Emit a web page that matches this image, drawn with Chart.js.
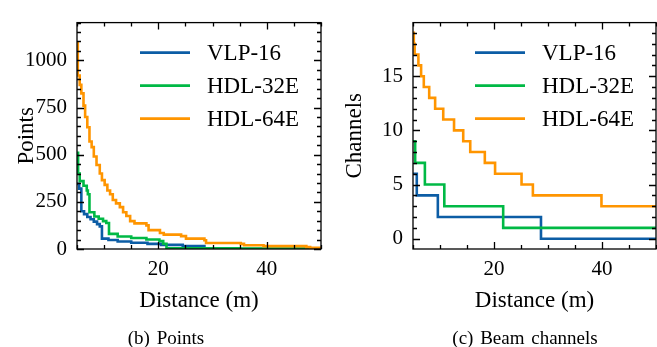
<!DOCTYPE html>
<html>
<head>
<meta charset="utf-8">
<script src="https://cdn.jsdelivr.net/npm/chart.js@4.4.0/dist/chart.umd.min.js"></script>
<style>
    body { margin: 0; background: #fff; }
    #wrap { position: relative; width: 657px; height: 347px; }
    .panel { position: absolute; top: 0; height: 347px; }
    .caption {
        position: absolute; top: 328px; line-height: 19px;
        font-family: "Liberation Serif", "Times New Roman", serif; font-size: 19px;
        color: #000; white-space: nowrap; transform: translateX(-50%);
        word-spacing: 2px;
    }
</style>
</head>
<body>
<div id="wrap">
    <div class="panel" style="left:0;width:330px"><canvas id="pointsChart" width="330" height="347"></canvas></div>
    <div class="panel" style="left:330px;width:327px"><canvas id="channelsChart" width="327" height="347"></canvas></div>
    <div class="caption" style="left:166px">(b) Points</div>
    <div class="caption" style="left:525px">(c) Beam channels</div>
</div>
<script>
const seriesNames = ["VLP-16", "HDL-32E", "HDL-64E"];
const seriesColors = ["#0C5DA5", "#00B945", "#FF9500"];

// tick labels
const distTicks = [20, 40];
const pointsTicks = [0, 250, 500, 750, 1000];
const channelsTicks = [0, 5, 10, 15];

// (b) points per distance
const vlpPtsDist = [5.0, 5.4, 5.8, 6.3, 6.9, 7.5, 8.1, 8.7, 9.2, 9.6, 10.8, 12.5, 15.0, 18.0, 20.5, 24.5, 28.5, 50];
const vlpPts     = [345, 320, 200, 185, 170, 158, 145, 132, 120, 55, 48, 40, 33, 27, 22, 16, 0, 0];
const hdl32PtsDist = [5.0, 5.2, 5.5, 6.2, 6.8, 7.0, 7.3, 8.2, 9.0, 9.8, 10.4, 10.9, 12.5, 15.0, 17.8, 20.2, 20.9, 21.5, 35.0, 50];
const hdl32Pts     = [510, 400, 360, 335, 310, 290, 195, 172, 160, 148, 138, 80, 66, 58, 50, 42, 28, 4, 3, 3];
const hdl64PtsDist = [5.0, 5.15, 5.5, 5.8, 6.2, 6.5, 6.9, 7.3, 7.7, 8.1, 8.6, 9.2, 9.6, 10.1, 10.6, 11.1, 11.6, 12.2, 12.9, 13.5,
                      14.1, 14.8, 15.6, 17.8, 18.2, 20.3, 21.0, 24.2, 25.1, 28.5, 28.8, 35.2, 35.8, 39.4, 47.3, 48.0, 50];
const hdl64Pts     = [1090, 920, 870, 825, 760, 700, 645, 570, 540, 490, 445, 400, 365, 340, 310, 290, 260, 242, 222, 195,
                      175, 148, 136, 125, 100, 85, 76, 68, 55, 46, 32, 27, 20, 15, 10, 6, 6];

// (c) beam channels per distance
const vlpChDist = [5.0, 5.7, 9.6, 28.7, 50];
const vlpCh     = [6, 4, 2, 0, 0];
const hdl32ChDist = [5.0, 5.4, 7.2, 10.8, 21.7, 50];
const hdl32Ch     = [9, 7, 5, 3, 1, 1];
const hdl64ChDist = [5.0, 5.15, 5.3, 6.0, 6.5, 7.0, 8.0, 9.1, 10.6, 12.6, 14.3, 15.6, 18.3, 20.2, 25.1, 27.2, 39.9, 50];
const hdl64Ch     = [19, 18, 17, 16, 15, 14, 13, 12, 11, 10, 9, 8, 7, 6, 5, 4, 3, 3];

const serif = "'Liberation Serif', 'Times New Roman', serif";

const toPoints = (xs, ys) => xs.map((x, i) => ({ x: x, y: ys[i] }));

// frame with inward major/minor ticks on all four sides
const sciAxes = {
    id: "sciAxes",
    afterDatasetsDraw(chart, args, opts) {
        const { ctx, chartArea: a, scales: { x, y } } = chart;
        ctx.save();
        ctx.strokeStyle = "#000";
        ctx.lineWidth = 1.3;
        ctx.beginPath();
        const tickX = (step, len) => {
            for (let v = Math.ceil(x.min / step - 1e-9) * step; v <= x.max + 1e-9; v += step) {
                const px = Math.round(x.getPixelForValue(v)) + 0.5;
                ctx.moveTo(px, a.bottom); ctx.lineTo(px, a.bottom - len);
                ctx.moveTo(px, a.top); ctx.lineTo(px, a.top + len);
            }
        };
        const tickY = (step, len) => {
            for (let v = Math.ceil(y.min / step - 1e-9) * step; v <= y.max + 1e-9; v += step) {
                const py = Math.round(y.getPixelForValue(v)) + 0.5;
                ctx.moveTo(a.left, py); ctx.lineTo(a.left + len, py);
                ctx.moveTo(a.right, py); ctx.lineTo(a.right - len, py);
            }
        };
        tickX(opts.xMinor, 4);
        tickX(opts.xMajor, 7);
        tickY(opts.yMinor, 4);
        tickY(opts.yMajor, 7);
        ctx.stroke();
        ctx.strokeRect(a.left, a.top, a.right - a.left, a.bottom - a.top);
        ctx.restore();
    }
};

// legend drawn inside the plot, upper right
const lineLegend = {
    id: "lineLegend",
    afterDraw(chart) {
        const { ctx, chartArea: a } = chart;
        ctx.save();
        ctx.font = "23px " + serif;
        ctx.textBaseline = "middle";
        ctx.fillStyle = "#000";
        chart.data.datasets.forEach((ds, i) => {
            const yy = a.top + 30 + i * 33;
            ctx.strokeStyle = ds.borderColor;
            ctx.lineWidth = 2.6;
            ctx.beginPath();
            ctx.moveTo(a.right - 181, yy);
            ctx.lineTo(a.right - 131, yy);
            ctx.stroke();
            ctx.fillText(ds.label, a.right - 114, yy + 1);
        });
        ctx.restore();
    }
};

function makeChart(canvasId, series, cfg) {
    const datasets = series.map((s, i) => ({
        label: seriesNames[i],
        data: toPoints(s[0], s[1]),
        borderColor: seriesColors[i],
        borderWidth: 2.6,
        pointRadius: 0,
        stepped: "before",
        fill: false,
        order: 3 - i
    }));

    return new Chart(document.getElementById(canvasId), {
        type: "line",
        data: { datasets: datasets },
        plugins: [sciAxes, lineLegend],
        options: {
            responsive: false,
            animation: false,
            layout: { padding: { top: cfg.padTop, right: cfg.padRight, left: 0, bottom: 0 } },
            plugins: {
                legend: { display: false },
                tooltip: { enabled: false },
                sciAxes: { xMajor: 20, xMinor: 5, yMajor: cfg.yMajor, yMinor: cfg.yMinor }
            },
            scales: {
                x: {
                    type: "linear",
                    min: 5,
                    max: 50,
                    grid: { display: false, drawTicks: false },
                    border: { display: false },
                    afterBuildTicks: scale => { scale.ticks = distTicks.map(v => ({ value: v })); },
                    ticks: {
                        padding: 8,
                        color: "#000",
                        font: { family: serif, size: 21 },
                        callback: v => String(v)
                    },
                    title: {
                        display: true,
                        text: "Distance (m)",
                        color: "#000",
                        font: { family: serif, size: 23 },
                        padding: { top: 0, bottom: 32 }
                    },
                    afterFit: scale => { scale.height = 98; }
                },
                y: {
                    type: "linear",
                    min: cfg.yMin,
                    max: cfg.yMax,
                    grid: { display: false, drawTicks: false },
                    border: { display: false },
                    afterBuildTicks: scale => { scale.ticks = cfg.yTicks.map(v => ({ value: v })); },
                    ticks: {
                        padding: 10,
                        color: "#000",
                        font: { family: serif, size: 21 },
                        callback: v => String(v)
                    },
                    title: {
                        display: true,
                        text: cfg.yTitle,
                        color: "#000",
                        font: { family: serif, size: 23 },
                        padding: { top: cfg.yTitlePad, bottom: 0 }
                    },
                    afterFit: scale => { scale.width = cfg.yWidth; }
                }
            }
        }
    });
}

makeChart("pointsChart",
    [[vlpPtsDist, vlpPts], [hdl32PtsDist, hdl32Pts], [hdl64PtsDist, hdl64Pts]],
    { yMin: 0, yMax: 1200, yTicks: pointsTicks, yMajor: 250, yMinor: 50, yTitle: "Points", yTitlePad: 13, yWidth: 77, padTop: 8, padRight: 9 });

makeChart("channelsChart",
    [[vlpChDist, vlpCh], [hdl32ChDist, hdl32Ch], [hdl64ChDist, hdl64Ch]],
    { yMin: -0.95, yMax: 19.95, yTicks: channelsTicks, yMajor: 5, yMinor: 1, yTitle: "Channels", yTitlePad: 11, yWidth: 83, padTop: 7, padRight: 1 });
</script>
</body>
</html>
